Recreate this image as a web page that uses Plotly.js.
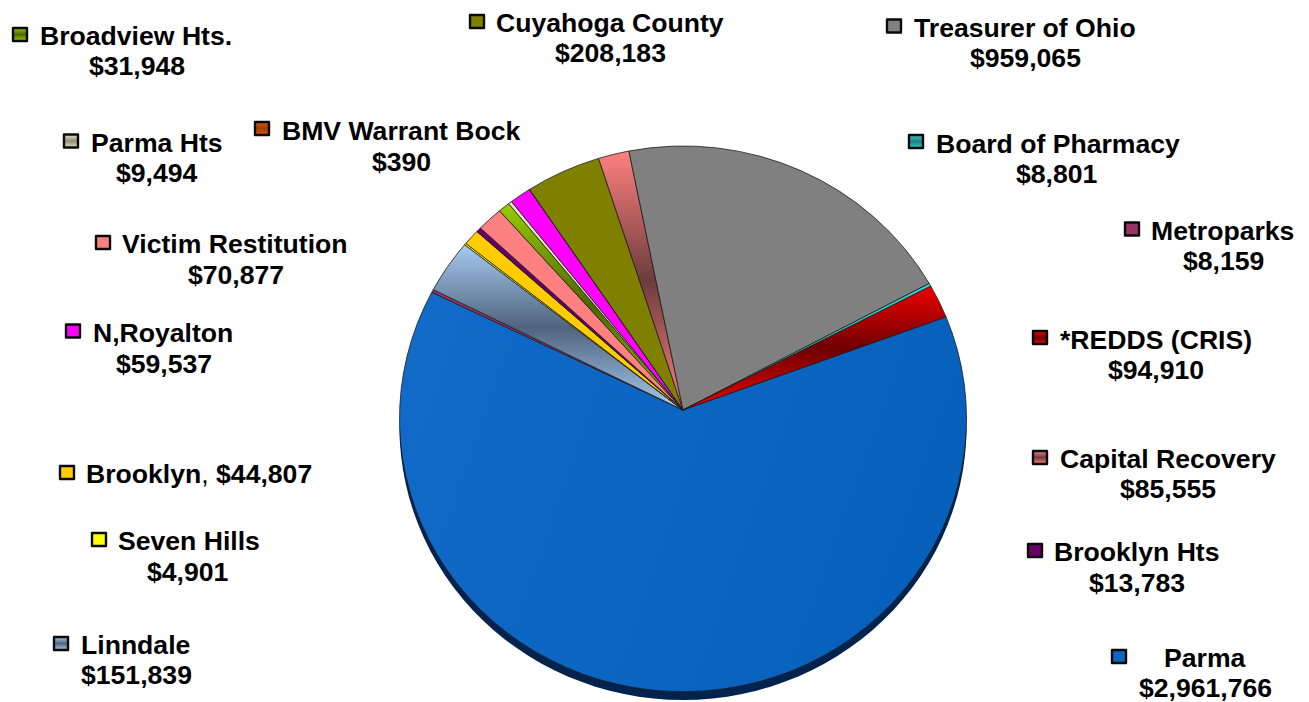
<!DOCTYPE html>
<html><head><meta charset="utf-8">
<script src="https://cdn.plot.ly/plotly-3.0.1.min.js"></script>
<style>html,body{margin:0;padding:0;background:#fff;overflow:hidden}#chart{width:1309px;height:702px}</style>
</head><body><div id="chart"></div>
<script>
const categories = ["Parma","Metroparks","Linndale","Seven Hills","Brooklyn","Brooklyn Hts","Victim Restitution","Broadview Hts.","Parma Hts","N,Royalton","BMV Warrant Bock","Cuyahoga County","Capital Recovery","Treasurer of Ohio","Board of Pharmacy","*REDDS (CRIS)"];
const amounts = [2961766,8159,151839,4901,44807,13783,70877,31948,9494,59537,390,208183,85555,959065,8801,94910];
const colors = ["#0b66c4","#993366","#a6caf0","#ffff00","#ffcc00","#660066","#ff8080","#99cc00","#e8e8c4","#ff00ff","#dd5500","#808000","#ff8080","#808080","#33cccc","#f00000"];
const shades = [null,null,"#50647e",null,null,null,null,"#4c6600","#8c8c78",null,"#a04000",null,"#6e3c3c",null,"#1f8080","#6e0000"];
const sliceGradient = [false,false,true,false,false,false,false,true,false,false,false,false,true,false,false,true];

// label placement: key left edge, key centre y, name centre x, name y, value centre x, value y (pixels)
const keyX   = [1111,1124,53,91,59,1027,95,12,63,65,254,469,1032,886,908,1032];
const keyY   = [656.5,229,643.5,539.5,472.5,550.5,242.5,34.5,141,331,128.5,21.5,457.5,26,141.5,337.5];
const nameX  = [1205,1222.5,135.5,188.5,198.5,1136.5,235,136,156.5,162.5,401,610,1167.5,1024.5,1057.5,1155.5];
const nameY  = [658,231,645,541,474,552,244,36,143,333,131,23,459,28,144,340];
const valueX = [1205,1223.5,136,188,null,1136.5,235.5,136.5,156.5,163.5,401,610,1167.5,1025,1057,1155.5];
const valueY = [688,261,675,572,null,583,275,66,173,364,162,53,489,58,174,370];

const W = 1309, H = 702, CX = 683, CY = 410, R = 283.5;
// 3-D tilt of the disc: perspective seen from below the centre
const TILT_C = 0.033, TILT_B = 272.7, ELLIPSE_RY = 273, ELLIPSE_DY = 9, RIM_DEPTH = 8, FS = 26.6;
const px = x => x / W, py = y => 1 - y / H;
const money = v => "$" + v.toLocaleString("en-US");

const annotations = [];
const note = (x, y, text) => annotations.push({xref:"paper",yref:"paper",x:px(x),y:py(y),xanchor:"center",yanchor:"middle",showarrow:false,text,
  font:{family:"Liberation Sans, Arial, sans-serif",size:FS,color:"#000"}});
categories.forEach((c,i)=>{
  if (valueX[i] === null) note(nameX[i], nameY[i], `<b>${c}</b>, <b>${money(amounts[i])}</b>`);
  else { note(nameX[i], nameY[i], `<b>${c}</b>`); note(valueX[i], valueY[i], `<b>${money(amounts[i])}</b>`); }
});

// dark 3-D rim under the pie
const rimCY = CY + ELLIPSE_DY + RIM_DEPTH;
let rim = `M${px(CX-R)},${py(rimCY)}`;
for (let a=180;a>=0;a-=3){ const t=a*Math.PI/180; rim += `L${px(CX+R*Math.cos(t))},${py(rimCY+ELLIPSE_RY*Math.sin(t))}`; }
rim += "Z";
const shapes = [{type:"path",xref:"paper",yref:"paper",path:rim,fillcolor:"#03234f",line:{width:0},layer:"below"}];
const keyShapeStart = shapes.length;
categories.forEach((c,i)=>shapes.push({type:"rect",xref:"paper",yref:"paper",x0:px(keyX[i]+1),x1:px(keyX[i]+15),y0:py(keyY[i]-6.5),y1:py(keyY[i]+6.5),
  fillcolor:colors[i],line:{color:"#0a0a0a",width:2.4},layer:"above"}));

const trace = {type:"pie",labels:categories,values:amounts,sort:false,direction:"clockwise",rotation:69.8,textinfo:"none",hoverinfo:"skip",
  marker:{colors,line:{color:"#1a1a1a",width:0.8}},
  domain:{x:[px(CX-R),px(CX+R)],y:[py(CY+R),py(CY-R)]}};
const layout = {width:W,height:H,margin:{l:0,r:0,t:0,b:0},paper_bgcolor:"#fff",showlegend:false,annotations,shapes};

Plotly.newPlot("chart",[trace],layout,{displayModeBar:false,staticPlot:true}).then(gd=>{
  const svg = gd.querySelector("svg.main-svg");
  const NS = "http://www.w3.org/2000/svg";
  const defs = svg.querySelector("defs");
  const add = (tag,attrs,stops)=>{ const g=document.createElementNS(NS,tag);
    for(const k in attrs) g.setAttribute(k,attrs[k]);
    stops.forEach(([o,c])=>{const s=document.createElementNS(NS,"stop");s.setAttribute("offset",o);s.setAttribute("stop-color",c);g.appendChild(s);});
    defs.appendChild(g); };
  const paths = gd.querySelectorAll(".pielayer g.slice path.surface");
  paths.forEach((p,i)=>{
    // Plotly's slice: M cx,cy l x0,y0 a r,r 0 large 1 dx,dy — re-projected onto the tilted disc
    const n = p.getAttribute("d").match(/-?\d*\.?\d+(?:e-?\d+)?/g).map(Number);
    const cx=n[0],cy=n[1],x0=n[2],y0=n[3],r=n[4],large=n[7],dx=n[9],dy=n[10];
    const tilt=(x,y)=>{ const d=1+TILT_C*(-y/r); return [cx+x/d, cy+(y/r)*TILT_B/d]; };
    const a=tilt(x0,y0), b=tilt(x0+dx,y0+dy);
    p.setAttribute("d",`M${cx},${cy}L${a[0]},${a[1]}A${r},${ELLIPSE_RY} 0 ${large} 1 ${b[0]},${b[1]}Z`);
    if (i===0){
      add("linearGradient",{id:"parmaFill",gradientUnits:"userSpaceOnUse",x1:cx-r,y1:cy-100,x2:cx+r,y2:cy+100},[[0,"#126ac9"],[1,"#0560bb"]]);
      p.style.fill="url(#parmaFill)";
    } else if (sliceGradient[i]){
      add("linearGradient",{id:"slice"+i,x1:0,y1:0,x2:0,y2:1},[[0,colors[i]],[0.5,shades[i]],[1,colors[i]]]);
      p.style.fill=`url(#slice${i})`;
    }
  });
  gd.querySelectorAll(".shapelayer path").forEach(k=>{
    const idx=k.getAttribute("data-index"); if(idx===null) return;
    const i=+idx-keyShapeStart; if(i<0) return;
    k.style.strokeLinejoin="round";
    if (shades[i]){ add("linearGradient",{id:"key"+i,x1:0,y1:0,x2:0,y2:1},[[0,colors[i]],[0.5,shades[i]],[1,colors[i]]]); k.style.fill=`url(#key${i})`; }
  });
});
</script></body></html>
